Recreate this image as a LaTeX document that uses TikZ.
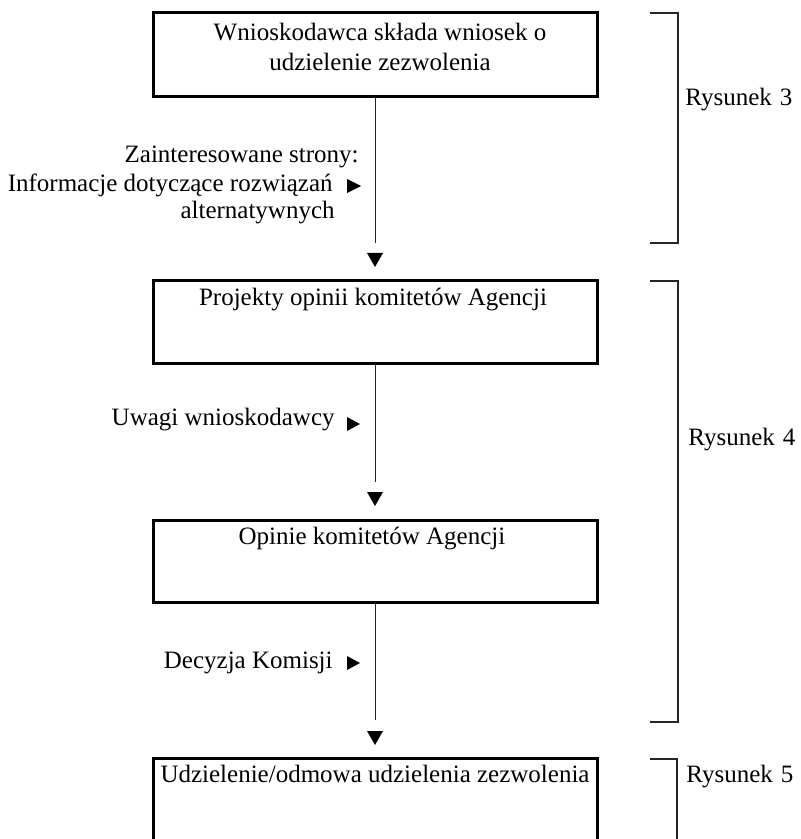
\documentclass[tikz,border=0pt]{standalone}
\usepackage{fontspec}
\setmainfont{Liberation Serif}
\begin{document}
\begin{tikzpicture}[x=0.5pt,y=-0.5pt,
  stagebox/.style={draw=black,line width=1.5pt,minimum width=222pt,inner sep=0pt},
  boxtext/.style={anchor=north,align=center,font=\fontsize{12.5}{15}\selectfont,inner sep=0pt},
  sidetext/.style={anchor=east,align=right,font=\fontsize{12.5}{15}\selectfont,inner sep=0pt},
  figtext/.style={anchor=west,font=\fontsize{12.5}{15}\selectfont,inner sep=0pt},
  conn/.style={draw=black!85,line width=0.5pt},
  brk/.style={draw=black!85,line width=0.6pt}]
\useasboundingbox (0,0) rectangle (800,839);
\clip (0,0) rectangle (800,839);
\fill[white] (0,0) rectangle (800,839);

% stage boxes
\node[stagebox,minimum height=42pt] (b1) at (375,55) {};
\node[stagebox,minimum height=41pt] (b2) at (375,322) {};
\node[stagebox,minimum height=41pt] (b3) at (375,561) {};
\node[stagebox,minimum height=60pt] (b4) at (375,818) {};

\node[boxtext] (t1) at (380,23) {Wnioskodawca składa wniosek o\\udzielenie zezwolenia};
\node[boxtext] (t2) at (373,288) {Projekty opinii komitetów Agencji};
\node[boxtext] (t3) at (372,527) {Opinie komitetów Agencji};
\node[boxtext] (t4) at (375,765) {Udzielenie/odmowa udzielenia zezwolenia};

% vertical connectors and their free ends
\coordinate (e1) at (375,243);
\coordinate (e2) at (375,482);
\coordinate (e3) at (375,720);
\draw[conn] (b1.south) -- (e1);
\draw[conn] (b2.south) -- (e2);
\draw[conn] (b3.south) -- (e3);

% downward arrow marks
\fill (375,267) -- (367,253) -- (383,253) -- cycle;
\fill (375,506) -- (367,492) -- (383,492) -- cycle;
\fill (375,745) -- (367,731) -- (383,731) -- cycle;

% side inputs
\node[sidetext] (s1a) at (359,157) {Zainteresowane strony:};
\node[sidetext] (s1b) at (333,185) {Informacje dotyczące rozwiązań};
\node[sidetext] (s1c) at (335,213) {alternatywnych};
\fill (361,186) -- (347,179) -- (347,193) -- cycle;

\node[sidetext] (s2) at (335,420) {Uwagi wnioskodawcy};
\fill (360,424) -- (347,417) -- (347,431) -- cycle;

\node[sidetext] (s3) at (333,663) {Decyzja Komisji};
\fill (360,663) -- (347,656) -- (347,670) -- cycle;

% figure brackets
\draw[brk] (650,13) -- (678,13) -- (678,243) -- (650,243);
\node[figtext] (r3) at (685,100) {Rysunek\hspace{4pt}3};
\draw[brk] (650,281) -- (678,281) -- (678,722) -- (650,722);
\node[figtext] (r4) at (688,440) {Rysunek\hspace{4pt}4};
\draw[brk] (650,759) -- (677,759) -- (677,850);
\node[figtext] (r5) at (686,777) {Rysunek\hspace{4pt}5};
\end{tikzpicture}
\end{document}
